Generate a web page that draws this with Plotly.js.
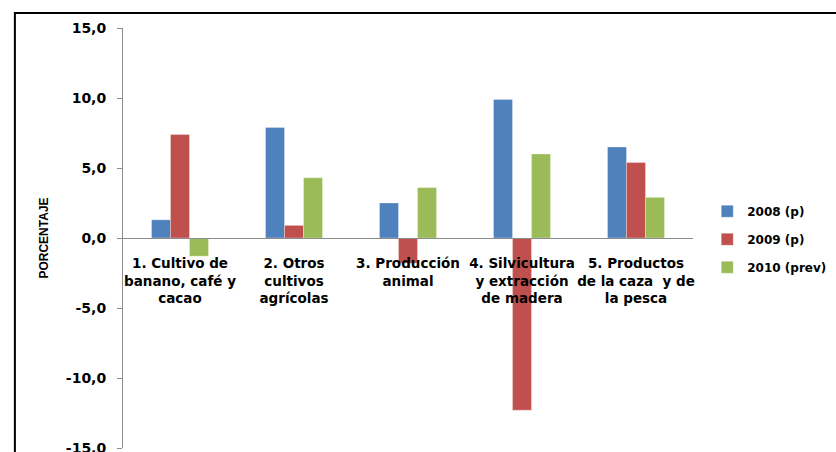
<!DOCTYPE html>
<html>
<head>
<meta charset="utf-8">
<script src="https://cdn.plot.ly/plotly-3.0.1.min.js"></script>
<style>html,body{margin:0;padding:0;background:#fff;}#chart{width:836px;height:452px;}</style>
</head>
<body>
<div id="chart"></div>
<script>
const categories = [
  "1. Cultivo de<br>banano, café y<br>cacao",
  "2. Otros<br>cultivos<br>agrícolas",
  "3. Producción<br>animal",
  "4. Silvicultura<br>y extracción<br>de madera",
  "5. Productos<br>de la caza  y de<br>la pesca"
];
const seriesNames = ["2008 (p)", "2009 (p)", "2010 (prev)"];
const values2008 = [1.3, 7.9, 2.5, 9.9, 6.5];
const values2009 = [7.4, 0.9, -1.8, -12.3, 5.4];
const values2010 = [-1.3, 4.3, 3.6, 6.0, 2.9];
const colors = ["#4F81BD", "#C0504D", "#9BBB59"];
const yTicks = [-15, -10, -5, 0, 5, 10, 15];
const yTickText = ["-15,0", "-10,0", "-5,0", "0,0", "5,0", "10,0", "15,0"];

const font = "'DejaVu Sans', Verdana, sans-serif";
const titleFont = "'Liberation Sans', Arial, sans-serif";
const seriesValues = [values2008, values2009, values2010];
const data = seriesValues.map((v, i) => ({
  type: "bar",
  name: seriesNames[i],
  x: categories,
  y: v,
  legendgroup: "g" + i,
  marker: {color: colors[i], line: {color: "rgba(255,255,255,0.6)", width: 0.5}}
}));

const layout = {
  width: 836, height: 452,
  margin: {l: 123, r: 133, t: 28, b: 4},
  paper_bgcolor: "#fff", plot_bgcolor: "rgba(0,0,0,0)",
  font: {family: font, size: 13, color: "#000"},
  barmode: "group",
  bargap: 0.5,
  bargroupgap: 0,
  showlegend: true,
  legend: {x: 1.025, y: 0.497, xanchor: "left", yanchor: "middle",
           font: {family: font, size: 12, color: "#000", weight: "bold"},
           tracegroupgap: 9, itemwidth: 30, borderwidth: 0,
           bgcolor: "rgba(0,0,0,0)"},
  xaxis: {
    type: "category",
    range: [-0.5, 4.5],
    anchor: "free", position: 0.5,
    showline: true, linecolor: "#8c8c8c", linewidth: 1,
    ticks: "", showgrid: false, zeroline: false,
    tickangle: 0,
    tickfont: {family: font, size: 13.5, color: "#000", weight: "bold"},
    ticklabelstandoff: 13,
    fixedrange: true
  },
  yaxis: {
    range: [-15, 15],
    tickvals: yTicks, ticktext: yTickText,
    ticks: "outside", ticklen: 5, tickcolor: "#8c8c8c",
    showline: true, linecolor: "#8c8c8c", linewidth: 1,
    showgrid: false, zeroline: false,
    tickfont: {family: font, size: 14, color: "#000", weight: "bold"},
    ticklabelstandoff: 8,
    ticklabeloverflow: "allow",
    title: {text: "PORCENTAJE", font: {family: titleFont, size: 12, color: "#000", weight: "bold"}, standoff: 14},
    fixedrange: true
  },
  shapes: [{
    type: "rect", xref: "paper", yref: "paper",
    x0: (13 - 123) / 580, x1: 1.3, y0: -0.1, y1: 1 + (28 - 13) / 420,
    line: {color: "#000", width: 2}, fillcolor: "rgba(0,0,0,0)", layer: "below"
  }]
};

Plotly.newPlot("chart", data, layout, {staticPlot: true, displayModeBar: false});
</script>
</body>
</html>
